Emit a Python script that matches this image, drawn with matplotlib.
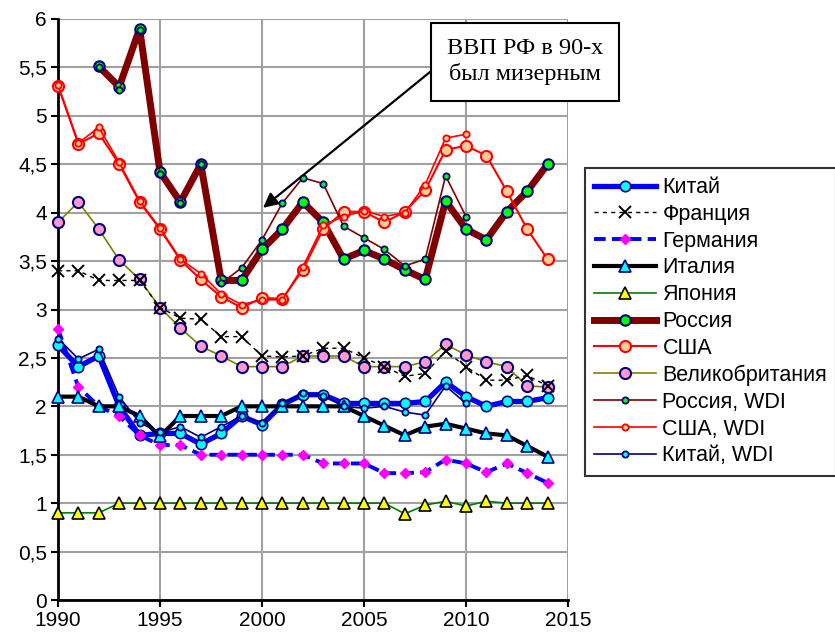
import numpy as np
import matplotlib
matplotlib.use("Agg")
import matplotlib.pyplot as plt

plt.rcParams['font.family'] = ['Liberation Sans', 'DejaVu Sans']

years = np.arange(1990, 2015)
years_wdi = np.arange(1990, 2011)
years_ru = np.arange(1992, 2015)
years_ru_wdi = np.arange(1992, 2011)

china = [2.63, 2.41, 2.52, 2.0, 1.7, 1.72, 1.72, 1.61, 1.72, 1.9, 1.81, 2.02, 2.12,
         2.12, 2.03, 2.03, 2.03, 2.03, 2.05, 2.25, 2.1, 2.0, 2.05, 2.05, 2.09]
france = [3.4, 3.4, 3.3, 3.3, 3.3, 3.02, 2.91, 2.9, 2.72, 2.72, 2.52, 2.51, 2.52,
          2.6, 2.6, 2.5, 2.41, 2.31, 2.34, 2.57, 2.41, 2.27, 2.27, 2.32, 2.21]
germany = [2.8, 2.2, 2.0, 1.9, 1.7, 1.6, 1.6, 1.5, 1.5, 1.5, 1.5, 1.5, 1.5,
           1.41, 1.41, 1.41, 1.31, 1.31, 1.32, 1.45, 1.41, 1.32, 1.41, 1.31, 1.21]
italy = [2.1, 2.1, 2.0, 2.0, 1.9, 1.69, 1.9, 1.9, 1.9, 2.0, 2.0, 2.0, 2.0,
         2.0, 2.0, 1.9, 1.8, 1.7, 1.79, 1.82, 1.77, 1.72, 1.7, 1.59, 1.48]
japan = [0.9, 0.9, 0.9, 1.0, 1.0, 1.0, 1.0, 1.0, 1.0, 1.0, 1.0, 1.0, 1.0,
         1.0, 1.0, 1.0, 1.0, 0.89, 0.98, 1.02, 0.97, 1.02, 1.0, 1.0, 1.0]
russia = [5.51, 5.3, 5.9, 4.42, 4.11, 4.5, 3.3, 3.3, 3.62, 3.83, 4.11, 3.9,
          3.52, 3.61, 3.52, 3.41, 3.31, 4.12, 3.83, 3.72, 4.01, 4.22, 4.5]
usa = [5.31, 4.71, 4.82, 4.5, 4.11, 3.83, 3.51, 3.31, 3.13, 3.02, 3.12, 3.11, 3.41,
       3.83, 4.01, 4.01, 3.9, 4.01, 4.23, 4.65, 4.69, 4.59, 4.22, 3.83, 3.52]
uk = [3.9, 4.11, 3.83, 3.51, 3.31, 3.02, 2.81, 2.62, 2.52, 2.41, 2.41, 2.41, 2.52,
      2.52, 2.52, 2.41, 2.41, 2.41, 2.46, 2.64, 2.53, 2.46, 2.41, 2.21, 2.2]
russia_wdi = [5.5, 5.27, 5.89, 4.4, 4.1, 4.5, 3.27, 3.43, 3.72, 4.1, 4.36, 4.3,
              3.86, 3.74, 3.62, 3.45, 3.52, 4.38, 3.96]
usa_wdi = [5.32, 4.72, 4.88, 4.52, 4.12, 3.84, 3.52, 3.37, 3.16, 3.05, 3.1, 3.1,
           3.44, 3.87, 3.96, 4.02, 3.96, 4.0, 4.29, 4.77, 4.81]
china_wdi = [2.7, 2.49, 2.59, 2.1, 1.83, 1.73, 1.79, 1.68, 1.79, 1.9, 1.83, 2.03,
             2.14, 2.11, 2.0, 1.98, 2.0, 1.94, 1.91, 2.21, 2.03]

yticks = np.arange(0, 6.5, 0.5)
ytick_labels = ['0', '0,5', '1', '1,5', '2', '2,5', '3', '3,5', '4', '4,5', '5', '5,5', '6']

fig = plt.figure(figsize=(8.35, 6.39), dpi=100)
ax = fig.add_axes([58 / 835, 1 - 600 / 639, 510 / 835, 581 / 639])

kw = dict(clip_on=False)
ax.plot(years, china, color='#0000FF', lw=3.8, marker='o', ms=7.5,
        mfc='#00FFFF', mec='#000080', mew=1.2, label='Китай', zorder=3, **kw)
ax.plot(years, france, color='black', lw=1.0, ls=(0, (3, 3)), marker='x', ms=9,
        mew=1.4, mec='black', label='Франция', zorder=6, **kw)
ax.plot(years, germany, color='#0000FF', lw=2.8, ls=(0, (3, 1.6)), marker='D', ms=5,
        mfc='#FF00FF', mec='#FF00FF', label='Германия', zorder=3, **kw)
ax.plot(years, italy, color='black', lw=3.0, marker='^', ms=9,
        mfc='#00FFFF', mec='#000080', mew=1.2, label='Италия', zorder=4, **kw)
ax.plot(years, japan, color='#008000', lw=1.2, marker='^', ms=9,
        mfc='#FFFF00', mec='black', mew=1.2, label='Япония', zorder=4, **kw)
ax.plot(years_ru, russia, color='#800000', lw=5.0, marker='o', ms=7.5,
        mfc='#00FF00', mec='#000080', mew=1.5, label='Россия', zorder=4, **kw)
ax.plot(years, usa, color='#FF0000', lw=1.5, marker='o', ms=8,
        mfc='#FFCC99', mec='#FF0000', mew=1.5, label='США', zorder=4, **kw)
ax.plot(years, uk, color='#808000', lw=1.2, marker='o', ms=8,
        mfc='#FF99CC', mec='#000080', mew=1.5, label='Великобритания', zorder=5, **kw)
ax.plot(years_ru_wdi, russia_wdi, color='#800000', lw=1.2, marker='o', ms=4.5,
        mfc='#00FF00', mec='#000080', mew=1.3, label='Россия, WDI', zorder=5, **kw)
ax.plot(years_wdi, usa_wdi, color='#FF0000', lw=1.2, marker='o', ms=4.5,
        mfc='#FFCC99', mec='#FF0000', mew=1.3, label='США, WDI', zorder=5, **kw)
ax.plot(years_wdi, china_wdi, color='#000080', lw=1.2, marker='o', ms=4.5,
        mfc='#00FFFF', mec='#000080', mew=1.3, label='Китай, WDI', zorder=5, **kw)

ax.set_xlim(1990, 2015)
ax.set_ylim(0, 6)
ax.set_xticks(np.arange(1990, 2016, 5))
ax.set_yticks(yticks)
ax.set_yticklabels(ytick_labels)
ax.grid(True, color='#a0a0a0', lw=1.5)
ax.set_axisbelow(True)
for s in ['top', 'right']:
    ax.spines[s].set_visible(False)
for s in ['left', 'bottom']:
    ax.spines[s].set_linewidth(2.0)
    ax.spines[s].set_zorder(2.5)
ax.tick_params(direction='out', length=5, width=1.5, labelsize=15, pad=3)

ax.annotate('ВВП РФ в 90-х\nбыл мизерным', xy=(2000.05, 4.05), xytext=(2012.9, 5.56),
            fontsize=17.5, family='Liberation Serif', ha='center', va='center',
            linespacing=1.2, zorder=10,
            bbox=dict(boxstyle='square,pad=0.65', fc='white', ec='black', lw=1.5),
            arrowprops=dict(arrowstyle='-|>', color='black', lw=1.6, relpos=(0, 0.575),
                            shrinkA=0, shrinkB=0, mutation_scale=22))

leg = ax.legend(loc='upper left', bbox_to_anchor=(585 / 835, 1 - 168 / 639),
                bbox_transform=fig.transFigure, fontsize=15.5, frameon=True,
                fancybox=False, edgecolor='black', borderaxespad=0,
                handlelength=2.9, handletextpad=0.28, labelspacing=0.27,
                borderpad=0.42)
leg.get_frame().set_linewidth(1.5)

fig.savefig('out.png', dpi=100)
